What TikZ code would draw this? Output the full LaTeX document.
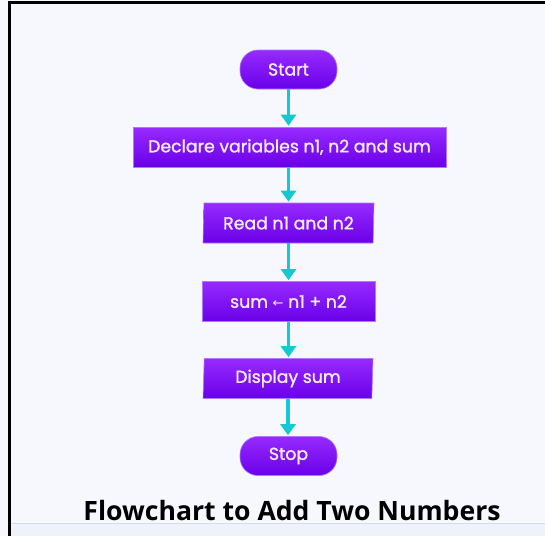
\documentclass[tikz,border=0pt]{standalone}
\usepackage{fontspec}
\setmainfont{Poppins}
\newfontfamily\boxfont[FakeBold=1.3]{Poppins}
\newfontfamily\arrowfont{DejaVu Sans}
\newfontfamily\titlefont{Open Sans}
\usetikzlibrary{shapes.geometric,arrows.meta}
\definecolor{bgc}{RGB}{247,248,254}
\definecolor{stripc}{RGB}{238,242,251}
\definecolor{stripline}{RGB}{214,220,236}
\definecolor{ptop}{RGB}{150,42,255}
\definecolor{pbot}{RGB}{106,0,232}
\definecolor{pedge}{RGB}{176,120,255}
\definecolor{ptext}{RGB}{246,236,255}
\definecolor{cyanc}{RGB}{22,200,210}
\tikzset{
  base/.style={top color=ptop, bottom color=pbot, draw=pedge, line width=0.6pt,
    text=ptext, font=\boxfont\fontsize{17.3}{20}\selectfont, inner sep=0pt, anchor=center},
  termbox/.style={base, rectangle, rounded corners=18pt, minimum width=97pt, minimum height=39pt},
  procbox/.style={base, rectangle, minimum height=40pt},
  iobox/.style={base, trapezium, trapezium left angle=86, trapezium right angle=94,
    trapezium stretches body=true, minimum height=40pt},
  flow/.style={draw=cyanc, line width=3.2pt, -{Triangle[width=15pt,length=11pt]}, shorten >=1pt}
}
\begin{document}
\begin{tikzpicture}[x=1pt,y=-1pt]
\useasboundingbox (0,0) rectangle (545,536);
\fill[bgc] (0,0) rectangle (545,536);
\fill[stripc] (9,523) rectangle (545,536);
\draw[stripline, line width=0.8pt] (9,523) -- (545,523);
\draw[black, line width=3pt] (9,536) -- (9,2.5) -- (545,2.5);

\node[termbox] (start) at (288.5,69.5) {Start};
\node[procbox, minimum width=313pt] (declare) at (289.5,147) {Declare variables n1, n2 and sum};
\node[iobox, minimum width=171pt] (read) at (288.5,223) {Read n1 and n2};
\node[procbox, minimum width=173pt] (calc) at (288.5,301.5) {sum {\arrowfont\fontsize{13}{16}\selectfont ←} n1 + n2};
\node[iobox, minimum width=170pt] (display) at (288,378.5) {Display sum};
\node[termbox] (stop) at (288.5,456) {Stop};

\draw[flow] (start.south) -- (start.south |- declare.north);
\draw[flow] (declare.south -| read.north) -- (read.north);
\draw[flow] (read.south) -- (read.south |- calc.north);
\draw[flow] (calc.south) -- (calc.south |- display.north);
\draw[flow] (display.south) -- (display.south |- stop.north);

\node[anchor=base, font=\titlefont\bfseries\fontsize{26.6}{30}\selectfont, text=black] (title) at (292,520) {Flowchart to Add Two Numbers};
\end{tikzpicture}
\end{document}
